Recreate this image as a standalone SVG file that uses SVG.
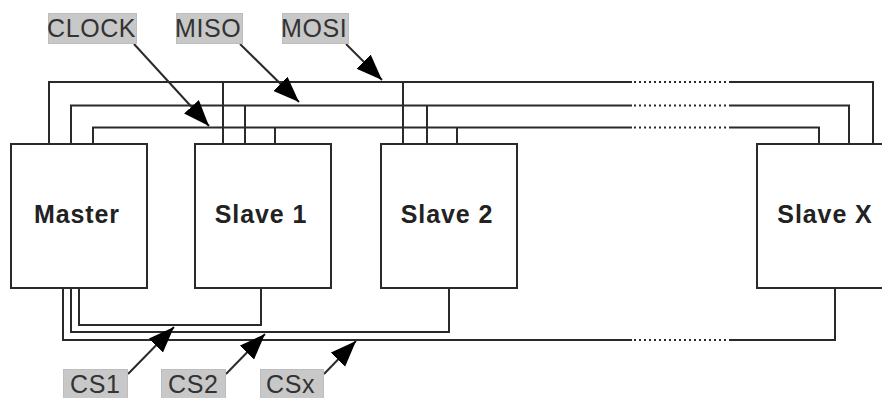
<svg xmlns="http://www.w3.org/2000/svg" width="882" height="398" viewBox="0 0 882 398">
<style>
.box{fill:#fff;stroke:#2a2a2a;stroke-width:2}
.w{fill:none;stroke:#2a2a2a;stroke-width:2}
.d{fill:none;stroke:#2a2a2a;stroke-width:2;stroke-dasharray:2 3}
.a{stroke:#2a2a2a;stroke-width:2;fill:none;marker-end:url(#ah)}
.lb{fill:#c8c8c8;stroke:#bdbdbd;stroke-width:1}
.t{font-family:"Liberation Sans",Arial,sans-serif;font-size:25px;letter-spacing:.6px;fill:#333}
.n{font-family:"Liberation Sans",Arial,sans-serif;font-size:25px;letter-spacing:.9px;font-weight:bold;fill:#222;text-anchor:middle}
</style>
<defs>
<marker id="ah" markerUnits="userSpaceOnUse" markerWidth="30" markerHeight="24" refX="26" refY="10" orient="auto">
<path d="M0 0L26 10L0 20Z" fill="#000"/>
</marker>
</defs>
<rect width="882" height="398" fill="#fff"/>
<g id="connectors">
<path class="w" d="M49 144V82H632M730 82H873V144"/>
<path class="w" d="M71 144V105.500H632M730 105.500H849V144"/>
<path class="w" d="M93 144V127.500H632M730 127.500H819V144"/>
<path class="d" d="M634 82H730M634 105.500H730M634 127.500H730M634 340H730"/>
<path class="w" d="M223 82V144M245 105.500V144M275 127.500V144"/>
<path class="w" d="M403 82V144M427 105.500V144M457 127.500V144"/>
<path class="w" d="M79 288V325H261V288"/>
<path class="w" d="M71 288V332H449V288"/>
<path class="w" d="M63 288V340H632M730 340H835V288"/>
<line class="a" x1="134" y1="44" x2="209" y2="126"/>
<line class="a" x1="240" y1="44" x2="299" y2="102"/>
<line class="a" x1="346" y1="44" x2="382" y2="80"/>
<line class="a" x1="128" y1="374" x2="174" y2="327"/>
<line class="a" x1="226" y1="374" x2="265" y2="334"/>
<line class="a" x1="324" y1="374" x2="356" y2="341"/>
</g>
<g id="master"><rect class="box" x="11" y="144" width="136" height="144"/><text class="n" x="77" y="223">Master</text></g>
<g id="slave1"><rect class="box" x="195" y="144" width="136" height="144"/><text class="n" x="261" y="223">Slave 1</text></g>
<g id="slave2"><rect class="box" x="381" y="144" width="136" height="144"/><text class="n" x="447" y="223">Slave 2</text></g>
<g id="slavex"><rect class="box" x="757" y="144" width="136" height="144"/><text class="n" x="825" y="223">Slave X</text></g>
<g id="clock"><rect class="lb" x="48.500" y="13.500" width="88" height="30"/><text class="t" x="47" y="37">CLOCK</text></g>
<g id="miso"><rect class="lb" x="176.500" y="13.500" width="66" height="30"/><text class="t" x="175" y="37">MISO</text></g>
<g id="mosi"><rect class="lb" x="282.500" y="13.500" width="66" height="30"/><text class="t" x="281" y="37">MOSI</text></g>
<g id="cs1"><rect class="lb" x="63.500" y="369.500" width="64" height="29"/><text class="t" x="70" y="393">CS1</text></g>
<g id="cs2"><rect class="lb" x="161.500" y="369.500" width="64" height="29"/><text class="t" x="168" y="393">CS2</text></g>
<g id="csx"><rect class="lb" x="260.500" y="369.500" width="63" height="29"/><text class="t" x="266" y="393">CSx</text></g>
</svg>
